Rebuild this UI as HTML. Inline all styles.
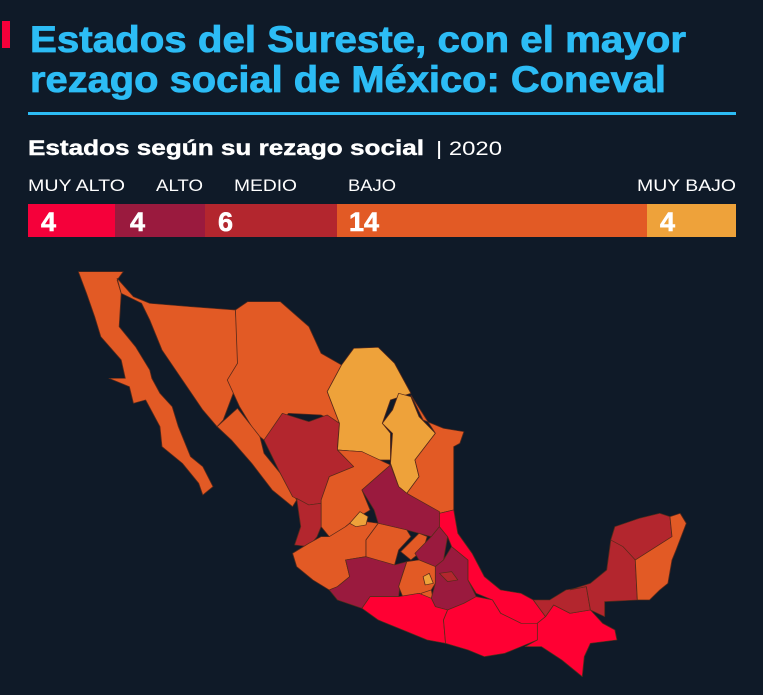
<!DOCTYPE html>
<html><head><meta charset="utf-8"><style>
html,body{margin:0;padding:0;background:#0f1a28;}
svg{display:block}
</style></head><body>
<svg width="763" height="695" viewBox="0 0 763 695" xmlns="http://www.w3.org/2000/svg">
<rect width="763" height="695" fill="#0f1a28"/>
<rect x="2" y="21" width="8" height="27" fill="#f5003a"/>
<g font-family="Liberation Sans, sans-serif" font-weight="bold" fill="#2cbcf5" stroke="#2cbcf5" stroke-width="0.8" font-size="37">
<text x="30" y="52" textLength="656" lengthAdjust="spacingAndGlyphs">Estados del Sureste, con el mayor</text>
<text x="30" y="92" textLength="636" lengthAdjust="spacingAndGlyphs">rezago social de México: Coneval</text>
</g>
<rect x="28" y="112" width="708" height="3" fill="#2cbcf5"/>
<text x="28" y="155" font-family="Liberation Sans, sans-serif" font-weight="bold" font-size="21" fill="#fff" stroke="#fff" stroke-width="0.4" textLength="396" lengthAdjust="spacingAndGlyphs">Estados según su rezago social</text>
<text x="436" y="155" font-family="Liberation Sans, sans-serif" font-size="19" fill="#fff" textLength="66" lengthAdjust="spacingAndGlyphs">| 2020</text>
<g font-family="Liberation Sans, sans-serif" font-size="17" fill="#fff">
<text x="28" y="191" textLength="97" lengthAdjust="spacingAndGlyphs">MUY ALTO</text>
<text x="156" y="191" textLength="47" lengthAdjust="spacingAndGlyphs">ALTO</text>
<text x="234" y="191" textLength="63" lengthAdjust="spacingAndGlyphs">MEDIO</text>
<text x="348" y="191" textLength="48" lengthAdjust="spacingAndGlyphs">BAJO</text>
<text x="637" y="191" textLength="99" lengthAdjust="spacingAndGlyphs">MUY BAJO</text>
</g>
<rect x="28" y="204" width="87" height="33" fill="#f5003a"/>
<rect x="115" y="204" width="90" height="33" fill="#9a1a3e"/>
<rect x="205" y="204" width="132" height="33" fill="#b3262e"/>
<rect x="337" y="204" width="310" height="33" fill="#e25a25"/>
<rect x="647" y="204" width="89" height="33" fill="#eea23a"/>
<g font-family="Liberation Sans, sans-serif" font-weight="bold" font-size="27" fill="#fff" stroke="#fff" stroke-width="0.6">
<text x="41" y="231">4</text><text x="130" y="231">4</text><text x="218" y="231">6</text><text x="349" y="231">14</text><text x="660" y="231">4</text>
</g>
<g transform="translate(60,260) scale(0.408,0.3333)" stroke="#5a2a1a" stroke-width="2" stroke-linejoin="round">
<polygon fill="#e25a25" points="45,35 155,35 140,60 150,100 145,200 185,260 220,330 225,355 245,400 275,440 290,500 320,590 350,620 375,680 350,705 340,670 300,610 250,560 245,500 210,420 180,430 170,380 120,355 160,355 150,300 100,230 85,170 65,100"/>
<polygon fill="#e25a25" points="140,55 180,110 220,130 320,140 430,150 440,350 400,480 385,500 350,450 300,360 250,270 220,180 200,130 150,100"/>
<polygon fill="#e25a25" points="430,150 460,125 540,125 610,200 640,280 690,315 655,395 685,490 640,465 560,460 500,540 480,520 440,440 410,360 435,310"/>
<polygon fill="#e25a25" points="385,500 435,445 490,530 500,580 540,640 580,720 570,740 520,690 470,610 420,540"/>
<polygon fill="#b3262e" points="500,540 545,460 610,485 655,465 685,490 680,560 720,620 660,650 640,730 610,735 570,710 540,640"/>
<polygon fill="#eea23a" points="690,315 720,265 780,262 820,310 860,400 810,420 790,490 810,520 810,600 775,600 740,575 680,570 685,490 655,395"/>
<polygon fill="#eea23a" points="830,400 860,410 880,470 920,520 870,600 880,650 850,700 830,680 810,610 815,520 790,490 815,450"/>
<polygon fill="#e25a25" points="860,405 890,480 940,505 990,515 980,550 965,560 965,750 930,760 850,700 880,650 870,600 920,520"/>
<polygon fill="#e25a25" points="680,570 740,575 810,615 740,690 760,750 720,780 700,800 690,830 660,830 640,800 640,720 660,650 720,620"/>
<polygon fill="#9a1a3e" points="810,615 830,680 850,700 930,755 930,800 910,830 880,820 850,810 780,790 770,750 740,690"/>
<polygon fill="#b3262e" points="580,715 610,735 640,730 640,800 630,830 610,860 575,855 590,800"/>
<polygon fill="#e25a25" points="570,880 610,850 640,830 660,830 700,800 720,780 780,790 750,840 750,890 700,900 710,950 680,980 660,990 620,960 580,920"/>
<polygon fill="#eea23a" points="710,790 735,755 755,770 750,795 725,800"/>
<polygon fill="#e25a25" points="780,790 850,810 860,830 830,870 820,915 780,910 750,890 750,840"/>
<polygon fill="#e25a25" points="880,820 900,830 890,870 860,900 835,875"/>
<polygon fill="#9a1a3e" points="910,830 930,800 950,830 940,900 920,920 880,900 870,880"/>
<polygon fill="#9a1a3e" points="700,900 750,890 820,915 850,905 835,960 830,1010 760,1010 740,1045 680,1020 660,990 680,980 710,950"/>
<polygon fill="#e25a25" points="850,905 880,900 920,920 920,970 900,1010 880,1000 840,1010 830,980"/>
<polygon fill="#eea23a" points="890,950 905,940 915,970 895,975"/>
<polygon fill="#e25a25" points="885,1000 910,990 915,1020 890,1020"/>
<polygon fill="#9a1a3e" points="940,900 960,860 1000,900 1000,960 1020,1010 990,1030 950,1050 920,1040 910,1015 920,970 920,920"/>
<polygon fill="#b3262e" points="930,940 960,935 975,960 950,965"/>
<polygon fill="#ff0033" points="930,760 965,750 975,820 1010,880 1040,950 1080,990 1130,1000 1160,1020 1190,1070 1170,1090 1130,1090 1080,1060 1060,1020 1020,1000 1000,960 1000,900 960,860 950,830 930,800"/>
<polygon fill="#ff0033" points="740,1045 760,1010 830,1010 880,1000 900,1010 910,1015 920,1040 950,1050 940,1080 945,1150 900,1140 840,1110 780,1080"/>
<polygon fill="#ff0033" points="950,1050 990,1030 1020,1010 1060,1020 1080,1060 1130,1090 1180,1090 1170,1140 1130,1160 1090,1180 1040,1190 1000,1170 945,1150 940,1080"/>
<polygon fill="#ff0033" points="1170,1090 1190,1070 1210,1035 1250,1060 1300,1050 1330,1090 1360,1110 1365,1140 1300,1150 1285,1190 1280,1250 1230,1200 1180,1160 1140,1160 1170,1140"/>
<polygon fill="#b3262e" points="1160,1020 1200,1020 1240,990 1290,980 1300,1050 1250,1060 1210,1035 1190,1070"/>
<polygon fill="#b3262e" points="1250,990 1300,970 1340,930 1350,840 1380,840 1410,900 1415,1020 1335,1025 1335,1070 1300,1050 1290,980"/>
<polygon fill="#b3262e" points="1350,840 1360,800 1420,775 1470,760 1495,770 1500,830 1410,900 1380,860"/>
<polygon fill="#e25a25" points="1495,770 1520,760 1535,790 1510,870 1500,900 1490,970 1470,990 1445,1020 1415,1020 1410,900 1500,830"/>
</g>
</svg>
</body></html>
